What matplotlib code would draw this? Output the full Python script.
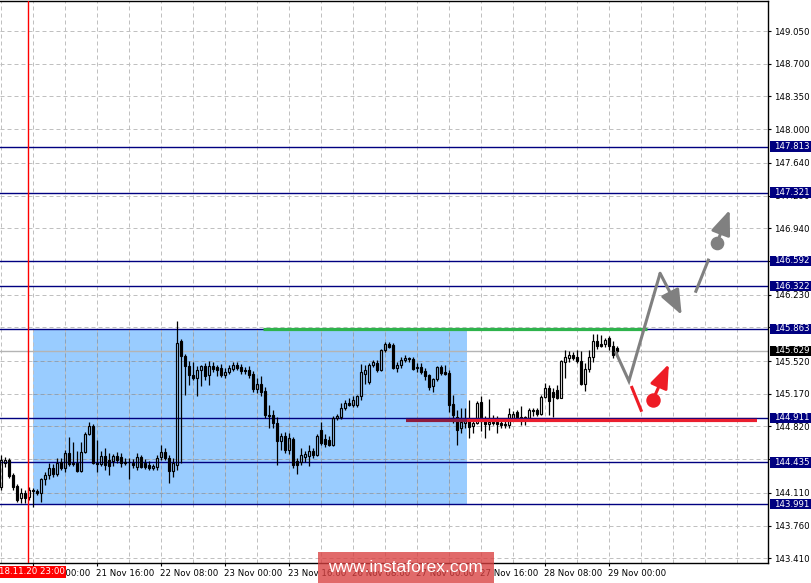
import matplotlib
matplotlib.use("Agg")
import matplotlib.pyplot as plt
from matplotlib.patches import Rectangle

# ---------------- data (H1 candles) ----------------
opens = [144.173,144.430,144.462,144.302,144.184,144.055,144.109,144.066,144.141,144.130,
         144.109,144.259,144.302,144.377,144.312,144.441,144.377,144.537,144.430,144.430,
         144.344,144.547,144.739,144.825,144.430,144.419,144.505,144.462,144.451,144.505,
         144.494,144.441,144.441,144.430,144.387,144.494,144.430,144.409,144.377,144.387,
         144.494,144.547,144.483,144.344,144.409,145.734,145.574,145.467,145.371,145.339,
         145.424,145.467,145.371,145.467,145.456,145.446,145.371,145.403,145.435,145.478,
         145.456,145.424,145.424,145.381,145.221,145.274,145.199,144.943,144.943,144.857,
         144.665,144.718,144.569,144.686,144.451,144.441,144.494,144.505,144.558,144.516,
         144.782,144.686,144.676,144.622,144.910,144.921,145.018,145.071,145.050,145.050,
         145.146,145.381,145.296,145.478,145.499,145.424,145.638,145.702,145.692,145.446,
         145.478,145.531,145.552,145.542,145.446,145.456,145.413,145.371,145.253,145.328,
         145.456,145.403,145.392,145.061,144.921,144.803,144.857,144.889,144.825,144.857,
         145.082,144.878,144.846,144.868,144.868,144.857,144.846,144.836,144.910,144.975,
         144.921,144.910,144.910,144.996,144.996,144.953,145.135,145.232,145.189,145.210,
         145.125,145.510,145.552,145.584,145.563,145.520,145.274,145.435,145.563,145.734,
         145.702,145.702,145.766,145.681,145.660]
highs = [144.516,144.494,144.483,144.323,144.205,144.162,144.141,144.173,144.162,144.152,
         144.269,144.334,144.430,144.419,144.483,144.483,144.569,144.707,144.655,144.558,
         144.655,144.761,144.868,144.846,144.676,144.558,144.590,144.537,144.526,144.547,
         144.537,144.483,144.483,144.473,144.537,144.516,144.473,144.451,144.419,144.516,
         144.622,144.590,144.516,144.483,145.948,145.756,145.596,145.520,145.510,145.467,
         145.478,145.499,145.520,145.510,145.478,145.488,145.446,145.478,145.510,145.510,
         145.488,145.456,145.467,145.413,145.339,145.360,145.242,145.050,144.996,144.921,
         144.750,144.761,144.750,144.707,144.483,144.590,144.558,144.622,144.590,144.739,
         144.868,144.739,144.718,144.932,144.953,145.071,145.103,145.125,145.146,145.157,
         145.488,145.478,145.499,145.531,145.531,145.649,145.724,145.724,145.713,145.510,
         145.563,145.584,145.563,145.563,145.499,145.499,145.446,145.381,145.339,145.467,
         145.478,145.478,145.424,145.157,144.996,145.018,145.018,145.103,144.889,145.093,
         145.146,144.932,145.114,144.943,144.932,144.889,144.889,145.018,144.986,144.996,
         145.039,144.932,145.018,145.018,145.018,145.157,145.285,145.264,145.232,145.264,
         145.531,145.638,145.627,145.617,145.638,145.627,145.499,145.638,145.809,145.809,
         145.798,145.766,145.788,145.734,145.680]
lows = [144.141,144.387,144.269,144.141,144.013,144.002,144.002,144.034,143.959,144.088,
        144.013,144.194,144.259,144.280,144.291,144.355,144.334,144.398,144.398,144.334,
        144.334,144.537,144.729,144.419,144.334,144.398,144.355,144.302,144.398,144.430,
        144.387,144.409,144.259,144.377,144.355,144.377,144.366,144.355,144.355,144.355,
        144.462,144.462,144.216,144.280,144.355,144.430,145.157,145.264,145.317,145.146,
        145.253,145.317,145.264,145.403,145.360,145.349,145.339,145.381,145.413,145.424,
        145.381,145.381,145.339,145.189,145.178,145.146,144.910,144.803,144.803,144.409,
        144.569,144.537,144.526,144.377,144.312,144.409,144.441,144.398,144.483,144.505,
        144.622,144.601,144.612,144.612,144.889,144.900,144.996,145.039,145.028,145.028,
        145.103,145.274,145.274,145.456,145.403,145.413,145.617,145.660,145.430,145.403,
        145.446,145.510,145.510,145.424,145.403,145.381,145.317,145.210,145.189,145.306,
        145.371,145.371,144.975,144.857,144.622,144.750,144.803,144.697,144.750,144.846,
        144.771,144.697,144.782,144.836,144.750,144.803,144.803,144.803,144.889,144.889,
        144.836,144.836,144.889,144.932,144.932,144.943,145.125,144.943,144.921,145.115,
        145.120,145.339,145.510,145.531,145.499,145.264,145.199,145.403,145.510,145.649,
        145.670,145.670,145.638,145.552,145.574]
closes = [144.462,144.462,144.291,144.173,144.034,144.109,144.055,144.141,144.130,144.109,
          144.259,144.302,144.377,144.312,144.430,144.377,144.537,144.419,144.419,144.344,
          144.547,144.739,144.825,144.430,144.419,144.505,144.409,144.398,144.505,144.462,
          144.430,144.430,144.436,144.409,144.494,144.387,144.387,144.377,144.398,144.483,
          144.547,144.483,144.344,144.430,145.713,145.574,145.467,145.371,145.339,145.424,
          145.467,145.360,145.467,145.435,145.424,145.371,145.403,145.446,145.478,145.446,
          145.413,145.413,145.371,145.221,145.274,145.189,144.943,144.932,144.857,144.665,
          144.718,144.569,144.697,144.409,144.409,144.516,144.526,144.558,144.516,144.718,
          144.644,144.633,144.622,144.910,144.932,145.018,145.071,145.050,145.103,145.146,
          145.403,145.424,145.478,145.510,145.424,145.638,145.702,145.670,145.446,145.478,
          145.531,145.552,145.542,145.435,145.456,145.403,145.360,145.242,145.328,145.456,
          145.392,145.381,145.050,144.943,144.782,144.868,144.889,144.814,144.857,145.071,
          144.878,144.846,144.868,144.857,144.846,144.836,144.836,144.953,144.953,144.910,
          144.910,144.921,144.996,144.986,144.953,145.135,145.232,145.093,145.135,145.125,
          145.520,145.563,145.584,145.552,145.520,145.274,145.435,145.563,145.734,145.681,
          145.681,145.745,145.681,145.584,145.629]

price_ticks = [149.050, 148.700, 148.350, 148.000, 147.640, 147.290, 146.940, 146.590,
               146.230, 145.880, 145.520, 145.170, 144.820, 144.470, 144.110, 143.760, 143.410]
# tick labels fully hidden behind level boxes in the reference
hidden_ticks = [146.590, 145.880, 144.470]
time_tick_bars = [8, 24, 40, 56, 72, 88, 104, 120, 136, 152]
time_tick_labels = ["21 Nov 00:00", "21 Nov 16:00", "22 Nov 08:00", "23 Nov 00:00",
                    "23 Nov 16:00", "26 Nov 08:00", "27 Nov 00:00", "27 Nov 16:00",
                    "28 Nov 08:00", "29 Nov 00:00"]
grid_bars = list(range(0, 192, 8))

levels = [147.813, 147.321, 146.592, 146.322, 145.863, 144.911, 144.435, 143.991]
bid_price = 145.629
marker_bar = 7
marker_label = "2018.11.20 23:00"

# range box (bars, prices)
zone_bars = [8.125, 116.5]
zone_prices = [143.991, 145.863]
# horizontal key lines
green_bars = [65.6, 161.5]
green_price = 145.863
red_bars = [101.4, 116.5, 189.0]
red_level = 144.911
red_price = 144.893

# forecast arrows (bar, price)
gray_path_bars = [153.75, 157.1, 164.9, 170.3]
gray_path_prices = [145.620, 145.306, 146.459, 146.013]
gray2_bars = [173.7, 177.1]
gray2_prices = [146.251, 146.615]
gray_dot = (179.1, 146.780)
gray_tip = (182.3, 147.136)
red_seg_bars = [157.7, 160.3]
red_seg_prices = [145.253, 144.978]
red_dot = (163.1, 145.103)
red_tip = (167.1, 145.489)

# ---------------- figure ----------------
W, H = 811, 583
fig = plt.figure(figsize=(W / 100, H / 100), dpi=100)
ax = fig.add_axes([0, 20 / H, 768 / W, 562 / H])
ax.set_xlim(-0.125, 191.875)
ax.set_ylim(143.360, 149.371)
ax.set_facecolor("white")

GRID = "#c0c0c0"
NAVY = "#000080"
dash = (0, (4, 3))

# grid
for b in grid_bars:
    ax.axvline(b, color=GRID, lw=0.72, ls=dash, zorder=1)
for p in price_ticks:
    ax.axhline(p, color=GRID, lw=0.72, ls=dash, zorder=1)

# zone rectangle
ax.add_patch(Rectangle((zone_bars[0], zone_prices[0]), zone_bars[1] - zone_bars[0],
                       zone_prices[1] - zone_prices[0], fc="#99ccff", ec="none", zorder=0.5))
for b in grid_bars:
    if zone_bars[0] < b < zone_bars[1]:
        ax.plot([b, b], zone_prices, color="#8aa2bb", lw=0.72, ls=dash, zorder=1.1)
for p in price_ticks:
    if zone_prices[0] < p < zone_prices[1]:
        ax.plot(zone_bars, [p, p], color="#8aa2bb", lw=0.72, ls=dash, zorder=1.1)

# levels
for lv in levels:
    ax.axhline(lv, color=NAVY, lw=1.0, zorder=1.5)
ax.axhline(bid_price, color="#b4b4b4", lw=1.0, zorder=1.4)

# green and red lines
ax.plot(green_bars, [green_price] * 2, color="#2eb34c", lw=2.3, solid_capstyle="butt", zorder=2)
ax.plot(red_bars[:2], [red_price] * 2, color="#8e1c3e", lw=3.0, solid_capstyle="butt", zorder=3.2)
ax.plot(red_bars[1:], [red_price] * 2, color="#ea1f2f", lw=3.0, solid_capstyle="butt", zorder=3.2)
ax.plot([red_bars[0], red_bars[2]], [red_level] * 2, color=NAVY, lw=0.6, zorder=3.3)

# candles
bw = 0.5
for i, (o, h, l, c) in enumerate(zip(opens, highs, lows, closes)):
    top, bot = max(o, c), min(o, c)
    ax.plot([i, i], [top, h], color="black", lw=0.9, solid_capstyle="butt", zorder=3)
    ax.plot([i, i], [l, bot], color="black", lw=0.9, solid_capstyle="butt", zorder=3)
    if top - bot < 0.004:
        ax.plot([i - bw / 2 - 0.12, i + bw / 2 + 0.12], [o, o], color="black", lw=0.9, zorder=3)
    else:
        ax.add_patch(Rectangle((i - bw / 2, bot), bw, top - bot,
                               fc="black" if c < o else "none", ec="black", lw=0.85, zorder=3))

# red vertical marker
ax.axvline(marker_bar - 0.05, color="#ff0000", lw=1.0, zorder=3.5)

# forecast arrows
GRAY = "#808080"
RED = "#ee1c25"
aprops = dict(lw=2.2, shrinkA=0, shrinkB=0, mutation_scale=10)
ax.plot(gray_path_bars[:3], gray_path_prices[:3], color=GRAY, lw=2.2,
        solid_joinstyle="miter", solid_capstyle="butt", zorder=4)
ax.annotate("", xy=(gray_path_bars[3], gray_path_prices[3]),
            xytext=(gray_path_bars[2], gray_path_prices[2]),
            arrowprops=dict(arrowstyle="-|>,head_length=1.5,head_width=0.6", color=GRAY, **aprops),
            zorder=4)
ax.plot(gray2_bars, gray2_prices, color=GRAY, lw=2.2, solid_capstyle="butt", zorder=4)
ax.plot([gray_dot[0]], [gray_dot[1]], "o", color=GRAY, ms=8.8, zorder=4)
ax.annotate("", xy=gray_tip, xytext=gray_dot,
            arrowprops=dict(arrowstyle="-|>,head_length=1.5,head_width=0.6", color=GRAY, **aprops),
            zorder=4)
ax.plot(red_seg_bars, red_seg_prices, color=RED, lw=2.2, solid_capstyle="butt", zorder=4)
ax.plot([red_dot[0]], [red_dot[1]], "o", color=RED, ms=9.4, zorder=4)
ax.annotate("", xy=red_tip, xytext=red_dot,
            arrowprops=dict(arrowstyle="-|>,head_length=1.45,head_width=0.55", color=RED, **aprops),
            zorder=4)

# axes styling
ax.spines["left"].set_visible(False)
for s in ["top", "right", "bottom"]:
    ax.spines[s].set_color("black")
    ax.spines[s].set_linewidth(1.0)

ax.yaxis.tick_right()
ax.set_yticks(price_ticks)
ax.set_yticklabels(["" if p in hidden_ticks else f"{p:.3f}" for p in price_ticks])
ax.tick_params(axis="y", direction="out", length=2.5, width=0.8, pad=2, labelsize=6.2,
               colors="black")
ax.set_xticks(time_tick_bars)
ax.set_xticklabels(time_tick_labels, ha="left")
ax.tick_params(axis="x", direction="out", length=2.5, width=0.8, pad=1.5, labelsize=6.2)

# level labels on the price scale
inv = fig.transFigure.inverted()
def fig_y(price):
    return inv.transform(ax.transData.transform((0, price)))[1]

def price_box(price, color):
    fy = fig_y(price)
    fig.patches.append(Rectangle((770 / W, fy - 5.2 / H), 41 / W, 10.4 / H,
                                 transform=fig.transFigure, fc=color, ec="none", zorder=5))
    fig.text(774.5 / W, fy, f"{price:.3f}", color="white", fontsize=6.2, va="center",
             ha="left", zorder=6)

for lv in levels:
    price_box(lv, NAVY)
price_box(bid_price, "black")

# red time marker label
fig.patches.append(Rectangle((0, 5 / H), 66 / W, 12.5 / H, transform=fig.transFigure,
                             fc="#ff0000", ec="none", zorder=5))
fig.text(64.5 / W, 11.5 / H, marker_label, color="white", fontsize=6.2, ha="right",
         va="center", zorder=6)

# watermark
fig.patches.append(Rectangle((318 / W, 0), 176 / W, 31 / H, transform=fig.transFigure,
                             fc=(0.85, 0.25, 0.25), alpha=0.78, ec="none", zorder=7))
fig.text(405 / W, 15 / H, "www.instaforex.com", color="white", fontsize=12.5,
         family="Liberation Sans", ha="center", va="center", zorder=8)

fig.savefig("out.png", dpi=100)
